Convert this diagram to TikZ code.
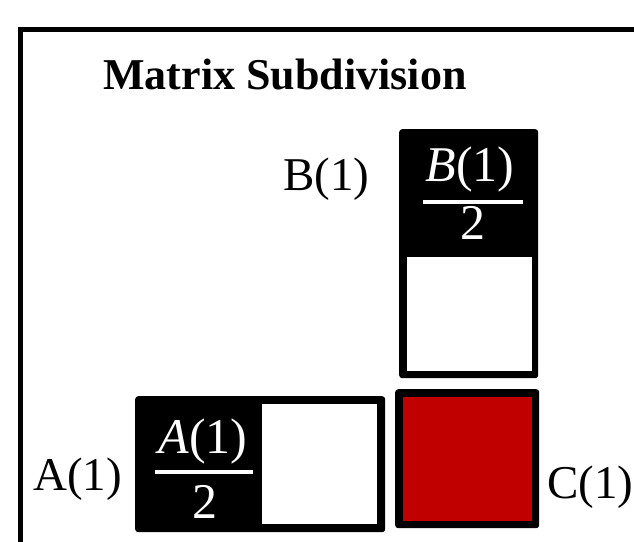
\documentclass[tikz,border=0pt]{standalone}
\usepackage{fontspec}
\setmainfont{Liberation Serif}
\definecolor{cred}{HTML}{C00000}
\begin{document}
\begin{tikzpicture}[x=1pt,y=-1pt,
  frame/.style={draw=black, line width=5pt},
  blk/.style={fill=black, rounded corners=3pt, inner sep=0pt, minimum width=#1},
  hole/.style={fill=white, inner sep=0pt},
  redcell/.style={fill=cred, inner sep=0pt},
  titletext/.style={inner sep=0pt, font=\fontsize{44}{50}\selectfont\bfseries},
  lbl/.style={inner sep=0pt, font=\fontsize{47}{52}\selectfont},
  frac/.style={inner sep=0pt, text=white, font=\fontsize{50}{56}\selectfont},
  fracrule/.style={draw=white, line width=4pt}
]
\useasboundingbox (0,0) rectangle (634,541);
\clip (0,0) rectangle (634,541);
\fill[white] (0,0) rectangle (634,541);
\draw[frame] (20.5,29) rectangle (700,620);

\node[titletext, anchor=base] (title) at (285,89) {Matrix Subdivision};

% B block
\node[blk=139pt, minimum height=249pt, anchor=north west] (Bbox) at (399,129) {};
\node[hole, minimum width=125pt, minimum height=114pt, anchor=north west] (Bhole) at (407,257) {};
\node[frac, anchor=base] (Bnum) at (470,181) {\itshape B\upshape(1)};
\coordinate (Brl) at (423,202);
\coordinate (Brr) at (523,202);
\draw[fracrule] (Brl) -- (Brr);
\node[frac, anchor=base] (Bden) at (473,239) {2};

% A block
\node[blk=250pt, minimum height=136pt, anchor=north west] (Abox) at (135,396) {};
\node[hole, minimum width=115pt, minimum height=120pt, anchor=north west] (Ahole) at (262,404) {};
\node[frac, anchor=base] (Anum) at (203,453) {\itshape A\upshape(1)};
\coordinate (Arl) at (155,472);
\coordinate (Arr) at (253,472);
\draw[fracrule] (Arl) -- (Arr);
\node[frac, anchor=base] (Aden) at (205,518) {2};

% C block
\node[blk=144pt, minimum height=139pt, anchor=north west] (Cbox) at (395,389) {};
\node[redcell, minimum width=129pt, minimum height=124pt, anchor=north west] (Cred) at (403,397) {};

% labels
\node[lbl, anchor=base west] (Blabel) at (283,190) {B(1)};
\node[lbl, anchor=base west] (Alabel) at (33,490) {A(1)};
\node[lbl, anchor=base west] (Clabel) at (547,498) {C(1)};
\end{tikzpicture}
\end{document}
